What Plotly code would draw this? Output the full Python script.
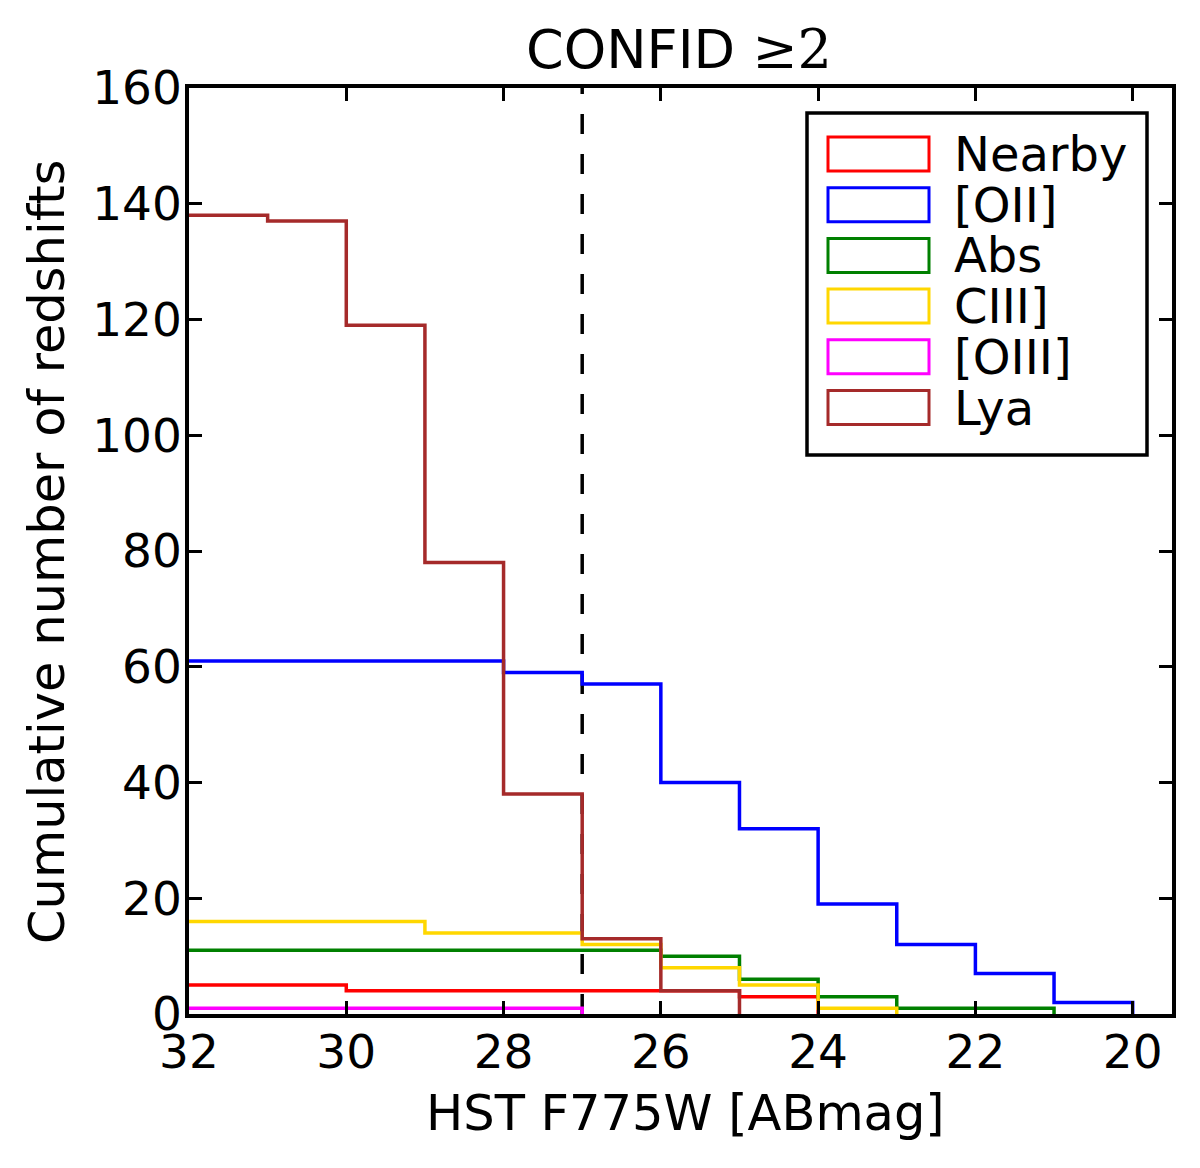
import plotly.graph_objects as go

# ---------------- data ----------------
bin_edges = [32, 31, 30, 29, 28, 27, 26, 25, 24, 23, 22, 21, 20]
series_names = ["Nearby", "[OII]", "Abs", "CIII]", "[OIII]", "Lya"]
series_colors = ["#ff0000", "#0000ff", "#008000", "#ffd700", "#ff00ff", "#a52a2a"]
nearby = [5, 5, 4, 4, 4, 4, 4, 3, 0, 0, 0, 0]
oii = [61, 61, 61, 61, 59, 57, 40, 32, 19, 12, 7, 2]
absorp = [11, 11, 11, 11, 11, 11, 10, 6, 3, 1, 1, 0]
ciii = [16, 16, 16, 14, 14, 12, 8, 5, 1, 0, 0, 0]
oiii = [1, 1, 1, 1, 1, 0, 0, 0, 0, 0, 0, 0]
lya = [138, 137, 119, 78, 38, 13, 4, 0, 0, 0, 0, 0]
series_values = [nearby, oii, absorp, ciii, oiii, lya]
cut_mag = 27
x_ticks = [32, 30, 28, 26, 24, 22, 20]
y_ticks = [0, 20, 40, 60, 80, 100, 120, 140, 160]

FONT = "DejaVu Sans"
OFF = 8                       # default page body margin
W, H = 1200 - 2 * OFF, 1168 - 2 * OFF
# plot area in page pixels (reference)
PX0, PX1, PY0, PY1 = 189, 1172, 88, 1014
X0, X1, Y0, Y1 = PX0 - OFF, PX1 - OFF, PY0 - OFF, PY1 - OFF


def px(x):   # page-pixel x -> paper
    return (x - PX0) / (PX1 - PX0)


def py(y):   # page-pixel y -> paper
    return (PY1 - y) / (PY1 - PY0)


fig = go.Figure()

# dashed cut line
fig.add_trace(go.Scatter(x=[cut_mag, cut_mag], y=[0, 160], mode="lines",
                         line=dict(color="black", width=3.5, dash="20px,20px"),
                         showlegend=False, hoverinfo="skip"))

for name, color, vals in zip(series_names, series_colors, series_values):
    last = max(i for i, v in enumerate(vals) if v > 0)
    xs = [bin_edges[0]] + bin_edges[1:last + 2] + [bin_edges[last + 1]]
    ys = [vals[0]] + vals[:last + 1] + [0]
    fig.add_trace(go.Scatter(x=xs, y=ys, mode="lines", line_shape="vh",
                             line=dict(color=color, width=3.5), name=name,
                             showlegend=False))

# manual legend (matplotlib-style rectangle patches)
shapes = [dict(type="rect", xref="paper", yref="paper",
               x0=px(807), x1=px(1147), y0=py(455), y1=py(113),
               line=dict(color="black", width=3.5), fillcolor="white", layer="above")]
annotations = []
row_h = 50.7
for i, (name, color) in enumerate(zip(series_names, series_colors)):
    top = 137 + row_h * i
    shapes.append(dict(type="rect", xref="paper", yref="paper",
                       x0=px(828), x1=px(929), y0=py(top + 34), y1=py(top),
                       line=dict(color=color, width=3), fillcolor="rgba(0,0,0,0)",
                       layer="above"))
    annotations.append(dict(text=name, xref="paper", yref="paper",
                            x=px(952), y=py(top + 17), xanchor="left", yanchor="middle",
                            showarrow=False, font=dict(family=FONT, size=48, color="black")))

# axis titles
annotations.append(dict(text="HST F775W [ABmag]", xref="paper", yref="paper",
                        x=px(685), y=py(1113), xanchor="center", yanchor="middle",
                        showarrow=False, font=dict(family=FONT, size=49.5, color="black")))
annotations.append(dict(text="Cumulative number of redshifts", xref="paper", yref="paper",
                        x=px(47), y=py(552), xanchor="center", yanchor="middle",
                        textangle=-90, showarrow=False,
                        font=dict(family=FONT, size=49.5, color="black")))

fig.update_layout(
    width=W, height=H,
    margin=dict(l=X0, r=W - X1, t=Y0, b=H - Y1),
    paper_bgcolor="white", plot_bgcolor="white",
    showlegend=False,
    title=dict(text="CONFID <span style='font-family:DejaVu Serif'>≥2</span>",
               x=px(679), xref="paper", xanchor="center",
               y=1 - (49 - OFF) / H, yref="container", yanchor="middle",
               font=dict(family=FONT, size=54, color="black")),
    shapes=shapes, annotations=annotations,
    font=dict(family=FONT, color="black"),
)
fig.update_xaxes(range=[32, 19.5], tickvals=x_ticks, ticktext=[str(v) for v in x_ticks],
                 ticks="inside", ticklen=13, tickwidth=3, tickcolor="black",
                 showline=True, linecolor="black", linewidth=3.5, mirror="allticks",
                 showgrid=False, zeroline=False, ticklabelstandoff=-6,
                 tickfont=dict(family=FONT, size=47, color="black"))
fig.update_yaxes(range=[0, 160], tickvals=y_ticks, ticktext=[str(v) for v in y_ticks],
                 ticks="inside", ticklen=13, tickwidth=3, tickcolor="black",
                 showline=True, linecolor="black", linewidth=3.5, mirror="allticks",
                 showgrid=False, zeroline=False, ticklabelstandoff=-6,
                 tickfont=dict(family=FONT, size=47, color="black"))

fig.write_html("out.html")
